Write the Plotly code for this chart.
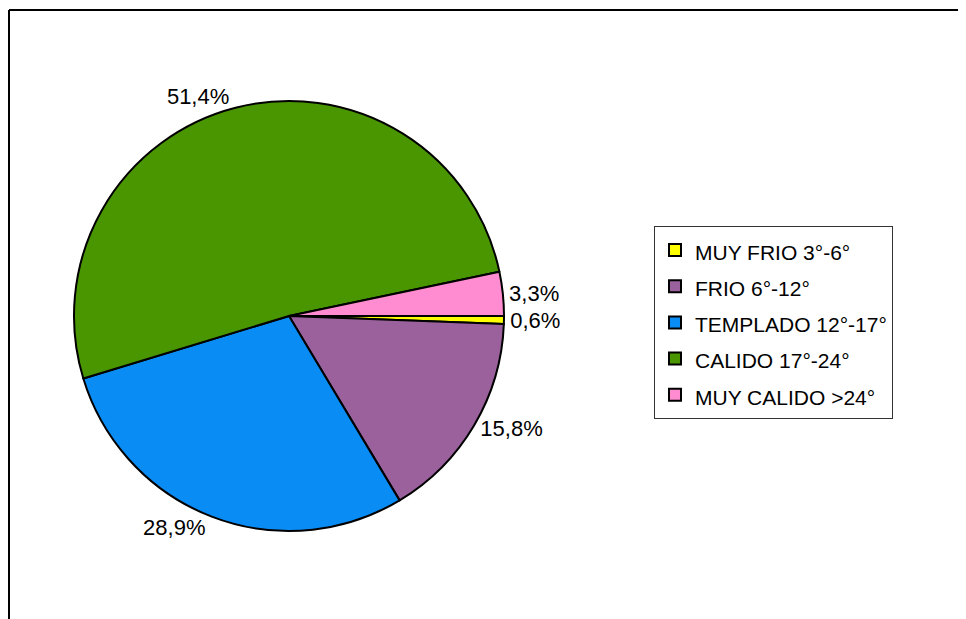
import plotly.graph_objects as go

categories = ["MUY FRIO 3°-6°", "FRIO 6°-12°", "TEMPLADO 12°-17°", "CALIDO 17°-24°", "MUY CALIDO >24°"]
values = [0.6, 15.8, 28.9, 51.4, 3.3]
colors = ["#FFFF00", "#9A619C", "#0A8CF5", "#4A9600", "#FF8CD0"]

labels_text = [f"{v:.1f}%".replace(".", ",") for v in values]
legend_labels = [f"<span style='font-size:21px'>{c}</span>" for c in categories]

# the page body adds an 8px offset; work in page coordinates minus 8
OFF = 8
W, H = 966 - OFF, 619 - OFF
cx, cy, r = 289 - OFF, 316 - OFF, 215

fig = go.Figure(go.Pie(
    labels=legend_labels,
    values=values,
    text=labels_text,
    texttemplate="%{text}",
    textposition="outside",
    textfont=dict(family="Liberation Sans, Arial", size=22, color="#000"),
    marker=dict(colors=colors, line=dict(color="#000", width=2)),
    sort=False,
    direction="clockwise",
    rotation=90,
    domain=dict(x=[(cx - r) / W, (cx + r) / W], y=[1 - (cy + r) / H, 1 - (cy - r) / H]),
    hoverinfo="skip",
))

fig.update_layout(
    width=W, height=H,
    margin=dict(l=0, r=0, t=0, b=0),
    paper_bgcolor="white",
    plot_bgcolor="white",
    showlegend=True,
    legend=dict(
        x=(654 - OFF) / W, y=1 - (226 - OFF) / H, xanchor="left", yanchor="top",
        bordercolor="#333", borderwidth=1, bgcolor="white",
        font=dict(family="Liberation Sans, Arial", size=25.5, color="#000"),
        itemclick=False, itemdoubleclick=False,
    ),
    shapes=[
        dict(type="line", xref="paper", yref="paper", x0=(9 - OFF) / W, x1=1, y0=1 - (10 - OFF) / H,
             y1=1 - (10 - OFF) / H, line=dict(color="#000", width=2)),
        dict(type="line", xref="paper", yref="paper", x0=(9 - OFF) / W, x1=(9 - OFF) / W, y0=0,
             y1=1 - (10 - OFF) / H, line=dict(color="#000", width=2)),
    ],
)

fig.write_html("out.html")
